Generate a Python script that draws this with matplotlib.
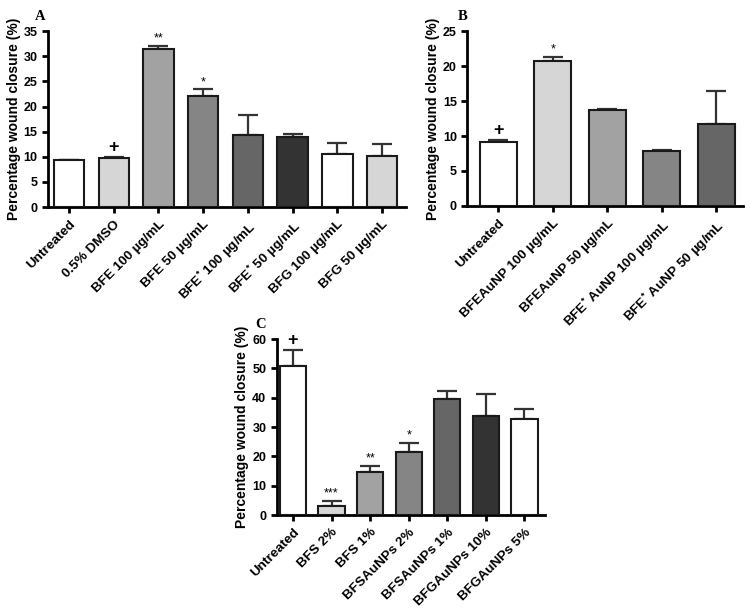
import numpy as np
import matplotlib
matplotlib.use('Agg')
import matplotlib.pyplot as plt
from matplotlib.transforms import offset_copy

plt.rcParams['font.family'] = ['Liberation Sans', 'DejaVu Sans']
plt.rcParams['font.weight'] = 'bold'
plt.rcParams['mathtext.default'] = 'regular'

# panel A
labels_a = ['Untreated', '0.5% DMSO', 'BFE 100 µg/mL', 'BFE 50 µg/mL',
            r'BFE$^{*}$ 100 µg/mL', r'BFE$^{*}$ 50 µg/mL', 'BFG 100 µg/mL', 'BFG 50 µg/mL']
vals_a = [9.3, 9.7, 31.4, 22.2, 14.3, 14.0, 10.5, 10.2]
err_a = [0.15, 0.2, 0.6, 1.2, 4.1, 0.5, 2.3, 2.3]
cols_a = ['white', '#d6d6d6', '#a2a2a2', '#858585', '#666666', '#333333', 'white', '#d6d6d6']
marks_a = ['', '+', '**', '*', '', '', '', '']

# panel B
labels_b = ['Untreated', 'BFEAuNP 100 µg/mL', 'BFEAuNP 50 µg/mL',
            r'BFE$^{*}$ AuNP 100 µg/mL', r'BFE$^{*}$ AuNP 50 µg/mL']
vals_b = [9.2, 20.8, 13.7, 7.9, 11.7]
err_b = [0.2, 0.5, 0.2, 0.05, 4.7]
cols_b = ['white', '#d6d6d6', '#a2a2a2', '#858585', '#666666']
marks_b = ['+', '*', '', '', '']

# panel C
labels_c = ['Untreated', 'BFS 2%', 'BFS 1%', 'BFSAuNPs 2%', 'BFSAuNPs 1%',
            'BFGAuNPs 10%', 'BFGAuNPs 5%']
vals_c = [50.7, 3.1, 14.8, 21.6, 39.6, 33.9, 32.8]
err_c = [5.5, 1.6, 2.1, 2.9, 2.8, 7.4, 3.4]
cols_c = ['white', '#d6d6d6', '#a2a2a2', '#858585', '#666666', '#333333', 'white']
marks_c = ['+', '***', '**', '*', '', '', '']


def panel(ax, labels, vals, errs, cols, marks, ymax, ystep, xlim, letter, letter_dx):
    x = np.arange(len(vals))
    ax.bar(x, vals, width=0.68, color=cols, edgecolor='#1a1a1a', linewidth=1.5, zorder=3)
    ax.errorbar(x, vals, yerr=[np.zeros(len(errs)), errs], fmt='none',
                ecolor='#333333', elinewidth=1.6, capsize=7, capthick=1.6, zorder=2)
    for xi, v, e, m in zip(x, vals, errs, marks):
        if m == '+':
            ax.annotate(m, (xi, v + e), xytext=(0, 1), textcoords='offset points',
                        ha='center', va='bottom', fontsize=13, fontweight='bold')
        elif m:
            ax.annotate(m, (xi, v + e), xytext=(0, 1), textcoords='offset points',
                        ha='center', va='bottom', fontsize=9, fontweight='normal')
    ax.set_xlim(*xlim)
    ax.set_ylim(0, ymax)
    ax.set_yticks(np.arange(0, ymax + 0.1, ystep))
    ax.set_xticks(x)
    ax.set_xticklabels(labels, rotation=45, ha='right', rotation_mode='anchor',
                       fontsize=9.7, fontweight='bold')
    ax.tick_params(axis='y', labelsize=9, width=2, length=4)
    ax.tick_params(axis='x', width=2, length=4, pad=4)
    for lab in ax.get_yticklabels():
        lab.set_fontweight('bold')
    ax.spines['top'].set_visible(False)
    ax.spines['right'].set_visible(False)
    ax.spines['left'].set_linewidth(2)
    ax.spines['bottom'].set_linewidth(2)
    ax.set_ylabel('Percentage wound closure (%)', fontsize=10, fontweight='bold', labelpad=2)
    tr = offset_copy(ax.transAxes, fig=ax.figure, x=letter_dx, y=8, units='dots')
    ax.text(0, 1, letter, transform=tr, fontsize=10.5,
            fontweight='bold', family='Liberation Serif', ha='right', va='bottom')


fig = plt.figure(figsize=(7.5, 6.11), dpi=100)
ax_a = fig.add_axes([0.064, 0.661, 0.477, 0.288])
ax_b = fig.add_axes([0.623, 0.663, 0.368, 0.286])
ax_c = fig.add_axes([0.369, 0.157, 0.357, 0.288])

panel(ax_a, labels_a, vals_a, err_a, cols_a, marks_a, 35, 5, (-0.47, 7.53), 'A', -3)
panel(ax_b, labels_b, vals_b, err_b, cols_b, marks_b, 25, 5, (-0.57, 4.5), 'B', 0)
panel(ax_c, labels_c, vals_c, err_c, cols_c, marks_c, 60, 10, (-0.42, 6.52), 'C', -11)

fig.savefig('out.png', dpi=100)
